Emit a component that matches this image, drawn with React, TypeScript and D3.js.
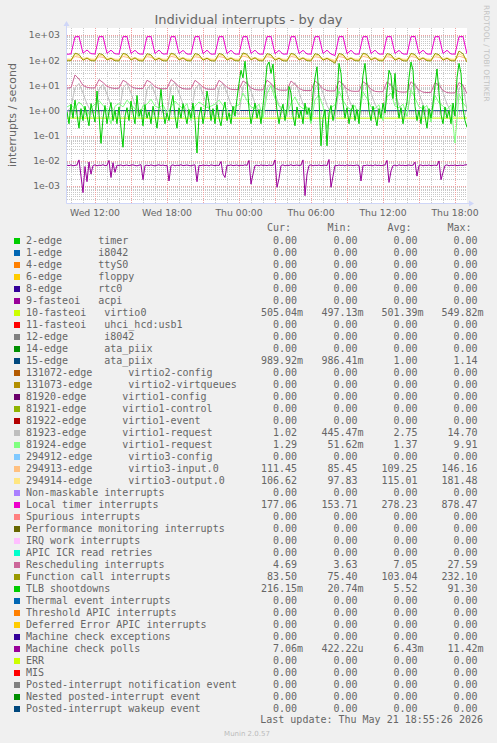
import React from "react";
import * as d3 from "d3";

const W = 497;
const H = 743;
const PL = 67;
const PR = 467;
const PT = 28;
const PB = 203;

const startTime = new Date(2026, 4, 20, 9, 40);
const endTime = new Date(2026, 4, 21, 19, 0);

const yTickValues = [1e-3, 1e-2, 1e-1, 1, 10, 100, 1000];
const yTickLabels = ["1e-03", "1e-02", "1e-01", "1e+00", "1e+01", "1e+02", "1e+03"];
const xTickTimes = [
  new Date(2026, 4, 20, 12, 0),
  new Date(2026, 4, 20, 18, 0),
  new Date(2026, 4, 21, 0, 0),
  new Date(2026, 4, 21, 6, 0),
  new Date(2026, 4, 21, 12, 0),
  new Date(2026, 4, 21, 18, 0),
];
const xTickLabels = ["Wed 12:00", "Wed 18:00", "Thu 00:00", "Thu 06:00", "Thu 12:00", "Thu 18:00"];

// ---- series (values per second) ----
const virtio0 = [0.505, 0.501, 0.5, 0.502, 0.505];
const ataPiix15 = [0.99, 1.0, 1.01, 0.99, 0.99];

const virtio1Request81923 = [
  0.9, 1.4,
  8, 12, 5, 1.8, 0.9, 0.8,
  7, 11, 4.5, 1.6, 0.8, 0.7,
  8, 12, 5, 1.7, 0.9, 0.6,
  7, 11, 4.8, 1.5, 0.8, 0.7,
  9, 13, 5, 1.8, 0.9, 0.7,
  7, 11, 4.5, 1.6, 0.8, 0.6,
  8, 12, 5, 1.7, 0.9, 0.7,
  9, 14.7, 6, 1.9, 0.9, 0.7,
  8, 12, 5, 1.6, 0.8, 0.6,
  9, 13, 5.5, 1.8, 0.9, 0.7,
  8, 12, 5, 1.6, 0.8, 0.45,
  8, 12, 5, 1.7, 0.9, 0.7,
  9, 13, 5, 1.8, 0.9, 0.7,
  8, 12, 4.8, 1.6, 0.8, 0.6,
  8, 12, 5, 1.7, 0.9, 0.7,
  9, 13, 5.2, 1.8, 0.9, 0.7,
  8, 11, 1.02,
];

const virtio1Request81924 = [
  1.4, 1.7, 1.2, 2.2, 1.5, 0.6, 1.3, 1.8, 2.5, 1.6,
  1.1, 0.3, 1.5, 1.9, 1.4, 2.6, 1.7, 1.2, 0.5, 1.6,
  1.8, 2.8, 1.5, 1.3, 1.7, 0.8, 1.4, 2.4, 1.6, 1.2,
  1.9, 0.4, 1.5, 2.2, 1.7, 1.3, 1.5, 1.8, 2.6, 1.6,
  1.1, 0.6, 1.5, 1.7, 5.0, 2.5, 1.4, 1.2, 1.8, 0.5,
  4.5, 9.9, 3.0, 1.5, 1.3, 0.7, 2.0, 3.5, 1.6, 1.2,
  1.4, 0.3, 2.8, 4.0, 1.5, 0.2, 1.3, 1.7, 6.0, 2.5,
  1.4, 1.1, 1.6, 0.5, 5.5, 3.0, 1.4, 1.2, 1.7, 0.4,
  3.5, 5.0, 1.5, 1.3, 1.8, 0.6, 6.5, 3.2, 1.4, 1.2,
  1.6, 0.35, 4.0, 2.0, 1.5, 1.1, 1.7, 0.0516, 4.5, 2.0,
  1.29,
];

const virtio3Input = [
  106, 105,
  140, 132, 110, 116, 106, 104,
  138, 130, 109, 115, 105, 104,
  141, 131, 110, 116, 106, 103,
  139, 130, 108, 114, 105, 104,
  142, 132, 110, 116, 106, 104,
  138, 130, 109, 115, 105, 103,
  140, 131, 110, 116, 106, 104,
  146, 134, 111, 117, 106, 104,
  139, 130, 109, 115, 105, 103,
  141, 132, 110, 116, 106, 104,
  138, 130, 108, 114, 105, 86,
  140, 131, 110, 116, 106, 104,
  142, 132, 110, 116, 106, 104,
  139, 130, 109, 115, 105, 103,
  141, 131, 110, 116, 106, 104,
  138, 130, 109, 115, 105, 104,
  146, 130, 111.45,
];

const virtio3Output = [
  112, 110,
  165, 150, 118, 126, 112, 110,
  160, 148, 117, 124, 111, 109,
  168, 152, 119, 127, 112, 110,
  162, 149, 117, 125, 111, 110,
  170, 153, 119, 127, 112, 110,
  161, 148, 116, 124, 111, 109,
  166, 151, 118, 126, 112, 110,
  175, 155, 120, 128, 113, 110,
  163, 149, 117, 125, 111, 109,
  168, 152, 118, 126, 112, 110,
  161, 148, 116, 124, 111, 98,
  166, 151, 118, 126, 112, 110,
  170, 153, 119, 127, 112, 110,
  162, 149, 117, 125, 111, 109,
  167, 151, 118, 126, 112, 110,
  163, 150, 117, 125, 111, 110,
  181, 150, 106.62,
];

const localTimer = [
  172, 178,
  850, 870, 190, 255, 182, 176,
  860, 868, 188, 250, 180, 175,
  862, 870, 186, 248, 178, 174,
  858, 872, 184, 252, 176, 178,
  860, 866, 185, 246, 176, 175,
  862, 870, 182, 250, 174, 176,
  858, 868, 184, 248, 176, 175,
  860, 866, 186, 250, 176, 174,
  862, 870, 182, 246, 175, 176,
  858, 868, 184, 248, 177, 175,
  860, 866, 185, 250, 176, 154,
  862, 870, 183, 248, 175, 176,
  858, 866, 184, 250, 176, 175,
  860, 868, 186, 246, 177, 174,
  862, 878, 183, 250, 176, 175,
  858, 868, 185, 248, 176, 175,
  860, 870, 177,
];

const rescheduling = [
  7.8, 8.2,
  26, 18, 10, 8.4, 7.9, 8.0,
  17, 13, 9.2, 8.0, 7.6, 7.8,
  16, 13, 9.0, 7.8, 7.5, 7.6,
  16, 13, 8.8, 7.6, 7.3, 7.5,
  17, 13, 8.8, 7.4, 7.2, 7.3,
  16, 12, 8.5, 7.2, 7.0, 7.1,
  16, 12, 8.3, 7.0, 6.8, 6.9,
  15, 12, 8.0, 6.8, 6.6, 6.7,
  16, 12, 7.8, 6.6, 6.4, 6.5,
  15, 11, 7.6, 6.4, 6.2, 6.3,
  15, 11, 7.4, 6.2, 6.0, 6.1,
  15, 11, 7.2, 6.0, 5.8, 5.9,
  14, 11, 7.0, 5.8, 5.6, 5.7,
  14, 10, 6.8, 5.6, 5.4, 5.5,
  14, 10, 6.6, 5.4, 5.2, 5.3,
  13, 10, 6.3, 5.2, 5.0, 5.1,
  13, 10, 4.69,
];

const functionCall = [
  95, 96,
  190, 170, 100, 122, 96, 94,
  185, 165, 102, 120, 95, 94,
  188, 168, 101, 124, 96, 93,
  182, 164, 100, 119, 95, 94,
  190, 170, 102, 123, 96, 94,
  184, 166, 100, 120, 95, 93,
  186, 167, 101, 122, 96, 94,
  195, 172, 103, 125, 96, 94,
  183, 165, 100, 120, 95, 93,
  188, 168, 102, 123, 96, 94,
  182, 164, 100, 119, 95, 76,
  186, 167, 101, 122, 96, 94,
  190, 170, 102, 124, 96, 94,
  184, 166, 100, 120, 95, 93,
  188, 168, 101, 123, 96, 94,
  185, 166, 100, 121, 95, 94,
  232, 180, 83.5,
];

const tlbShootdowns = [
  0.9, 0.3, 1.8, 0.5, 2.6, 0.7, 0.2, 1.2, 0.4, 1.5, 0.6, 0.25, 1.9, 0.8, 0.35,
  6.0, 0.7, 0.05, 0.5, 1.6, 0.3, 0.9, 2.1, 0.4, 1.0, 0.3, 1.4, 0.2, 0.035, 0.6,
  1.3, 0.4, 2.4, 0.8, 0.3, 4.0, 0.6, 1.1, 0.25, 1.7, 0.5, 0.9, 0.3, 1.5, 0.6,
  0.2, 1.2, 7.0, 1.0, 0.3, 0.8, 0.4, 1.6, 4.0, 0.6, 0.2, 1.3, 0.5, 1.9, 0.7,
  0.3, 1.1, 0.5, 2.0, 0.4, 0.0207, 0.6, 1.4, 0.3, 0.9, 6.0, 2.0, 0.4, 1.2, 0.3,
  1.7, 0.5, 0.25, 1.0, 2.2, 0.4, 0.8, 0.3, 1.5, 0.6, 3.0, 12, 40, 20, 91.3,
  15, 1.2, 0.3, 0.8, 2.0, 0.5, 1.1, 0.3, 1.6, 8.0, 60, 85, 30, 70, 6.0,
  1.0, 0.3, 0.9, 1.8, 0.4, 1.2, 9.0, 5.0, 0.6, 0.25, 1.4, 0.5, 1.0, 0.3, 2.0,
  0.7, 1.3, 0.4, 5.0, 20, 55, 3.0, 0.04, 0.5, 1.1, 0.04, 0.8, 1.6, 0.4, 1.0,
  4.0, 75, 30, 2.0, 0.5, 1.3, 0.3, 0.9, 1.7, 0.4, 1.1, 0.3, 3.0, 25, 75,
  10, 1.0, 0.4, 1.5, 0.6, 0.25, 1.2, 0.5, 2.0, 0.8, 6.0, 40, 25, 3.0, 30,
  2.0, 0.5, 1.3, 0.3, 0.9, 2.2, 20, 85, 40, 1.5, 0.4, 1.0, 0.3, 1.6, 0.6,
  0.2, 1.2, 0.5, 1.8, 10, 45, 5.0, 0.7, 0.3, 1.4, 0.5, 1.0, 0.3, 2.0, 0.6,
  20, 75, 30, 1.2, 0.4, 0.216,
];

const machineCheckPolls = [
  0.0068, 0.0065, 0.007, 0.0064, 0.0067, 0.0069, 0.011, 0.0025, 0.00055, 0.006, 0.0015, 0.009, 0.003, 0.0066, 0.007, 0.0064, 0.0068, 0.0066, 0.0071, 0.0065,
  0.0067, 0.0105, 0.0022, 0.0085, 0.0035, 0.0068, 0.0066, 0.007, 0.0064, 0.0067, 0.0069, 0.0065, 0.0068, 0.007, 0.0066, 0.0064, 0.0068, 0.0071, 0.0018, 0.0066,
  0.0068, 0.0065, 0.007, 0.0066, 0.0064, 0.0068, 0.007, 0.0066, 0.0069, 0.0065, 0.0067, 0.0016, 0.0066, 0.007, 0.0064, 0.0068, 0.0066, 0.0071, 0.0065, 0.0067,
  0.0069, 0.0066, 0.0064, 0.0068, 0.007, 0.0015, 0.0067, 0.0065, 0.0069, 0.0066, 0.0068, 0.0064, 0.007, 0.0067, 0.0065, 0.0068, 0.0066, 0.0095, 0.003, 0.0022,
  0.0068, 0.0066, 0.007, 0.0065, 0.0067, 0.0069, 0.0064, 0.0068, 0.0066, 0.007, 0.0067, 0.0105, 0.0012, 0.003, 0.0066, 0.0068, 0.0064, 0.007, 0.0066, 0.0068,
  0.0065, 0.0069, 0.0066, 0.0068, 0.011, 0.0009, 0.002, 0.0066, 0.007, 0.0064, 0.0068, 0.0066, 0.0071, 0.0065, 0.0067, 0.0069, 0.0066, 0.0068, 0.011, 0.00042,
  0.003, 0.0066, 0.007, 0.0064, 0.0068, 0.0066, 0.0069, 0.0065, 0.0067, 0.0068, 0.0066, 0.0114, 0.0009, 0.0025, 0.0067, 0.0065, 0.0069, 0.0066, 0.0068, 0.0064,
  0.007, 0.0066, 0.0068, 0.0065, 0.0067, 0.0069, 0.0066, 0.0016, 0.0067, 0.0065, 0.0069, 0.0066, 0.0068, 0.0064, 0.007, 0.0066, 0.0068, 0.0065, 0.0067, 0.0069,
  0.0105, 0.0014, 0.004, 0.0066, 0.0068, 0.0064, 0.007, 0.0066, 0.0068, 0.0065, 0.0067, 0.0069, 0.0066, 0.0068, 0.009, 0.0025, 0.0066, 0.007, 0.0064, 0.0068,
  0.0066, 0.0069, 0.0065, 0.0067, 0.0068, 0.0066, 0.01, 0.0018, 0.0035, 0.0066, 0.007, 0.0064, 0.0068, 0.0066, 0.0069, 0.0065, 0.0067, 0.0068, 0.0066, 0.007,
  0.00706,
];

// ---- legend ----
const palette = [
  "#00CC00", "#0066B3", "#FF8000", "#FFCC00", "#330099", "#990099", "#CCFF00", "#FF0000",
  "#808080", "#008F00", "#00487D", "#B35A00", "#B38F00", "#6B006B", "#8FB300", "#B30000",
  "#BEBEBE", "#80FF80", "#80C9FF", "#FFC080", "#FFE680", "#AA80FF", "#EE00CC", "#FF8080",
  "#666600", "#FFBFFF", "#00FFCC", "#CC6699", "#999900",
];

const legendLabels = [
  "2-edge      timer",
  "1-edge      i8042",
  "4-edge      ttyS0",
  "6-edge      floppy",
  "8-edge      rtc0",
  "9-fasteoi   acpi",
  "10-fasteoi   virtio0",
  "11-fasteoi   uhci_hcd:usb1",
  "12-edge      i8042",
  "14-edge      ata_piix",
  "15-edge      ata_piix",
  "131072-edge      virtio2-config",
  "131073-edge      virtio2-virtqueues",
  "81920-edge      virtio1-config",
  "81921-edge      virtio1-control",
  "81922-edge      virtio1-event",
  "81923-edge      virtio1-request",
  "81924-edge      virtio1-request",
  "294912-edge      virtio3-config",
  "294913-edge      virtio3-input.0",
  "294914-edge      virtio3-output.0",
  "Non-maskable interrupts",
  "Local timer interrupts",
  "Spurious interrupts",
  "Performance monitoring interrupts",
  "IRQ work interrupts",
  "APIC ICR read retries",
  "Rescheduling interrupts",
  "Function call interrupts",
  "TLB shootdowns",
  "Thermal event interrupts",
  "Threshold APIC interrupts",
  "Deferred Error APIC interrupts",
  "Machine check exceptions",
  "Machine check polls",
  "ERR",
  "MIS",
  "Posted-interrupt notification event",
  "Nested posted-interrupt event",
  "Posted-interrupt wakeup event",
];

const Z = "0.00";
const curValues = [Z, Z, Z, Z, Z, Z, "505.04m", Z, Z, Z, "989.92m", Z, Z, Z, Z, Z, "1.02", "1.29", Z, "111.45", "106.62", Z, "177.06", Z, Z, Z, Z, "4.69", "83.50", "216.15m", Z, Z, Z, Z, "7.06m", Z, Z, Z, Z, Z];
const minValues = [Z, Z, Z, Z, Z, Z, "497.13m", Z, Z, Z, "986.41m", Z, Z, Z, Z, Z, "445.47m", "51.62m", Z, "85.45", "97.83", Z, "153.71", Z, Z, Z, Z, "3.63", "75.40", "20.74m", Z, Z, Z, Z, "422.22u", Z, Z, Z, Z, Z];
const avgValues = [Z, Z, Z, Z, Z, Z, "501.39m", Z, Z, Z, "1.00", Z, Z, Z, Z, Z, "2.75", "1.37", Z, "109.25", "115.01", Z, "278.23", Z, Z, Z, Z, "7.05", "103.04", "5.52", Z, Z, Z, Z, "6.43m", Z, Z, Z, Z, Z];
const maxValues = [Z, Z, Z, Z, Z, Z, "549.82m", Z, Z, Z, "1.14", Z, Z, Z, Z, Z, "14.70", "9.91", Z, "146.16", "181.48", Z, "878.47", Z, Z, Z, Z, "27.59", "232.10", "91.30", Z, Z, Z, Z, "11.42m", Z, Z, Z, Z, Z];
const columnHeaders = ["Cur:", "Min:", "Avg:", "Max:"];

// series drawn in legend order (index into legend)
const plotted: [number, number[]][] = [
  [6, virtio0],
  [10, ataPiix15],
  [16, virtio1Request81923],
  [17, virtio1Request81924],
  [19, virtio3Input],
  [20, virtio3Output],
  [22, localTimer],
  [27, rescheduling],
  [28, functionCall],
  [29, tlbShootdowns],
  [34, machineCheckPolls],
];

const FONT = "'DejaVu Sans', sans-serif";
const MONO = "'DejaVu Sans Mono', monospace";
const TEXT = "#666666";

export default function App() {
  const x = d3.scaleTime().domain([startTime, endTime]).range([PL, PR]);
  const y = d3.scaleLog().domain([Math.pow(10, -3.67), Math.pow(10, 3.28)]).range([PB, PT]);
  const span = endTime.getTime() - startTime.getTime();

  const minorY: number[] = [];
  for (let k = -4; k <= 3; k++) {
    for (let m = 2; m <= 9; m++) {
      const v = m * Math.pow(10, k);
      const py = y(v);
      if (py > PT && py < PB) minorY.push(Math.round(py) + 0.5);
    }
  }
  const hours = d3.timeHour.every(1)!.range(startTime, endTime);
  const minorX = hours.filter((h) => h.getHours() % 3 !== 0).map((h) => Math.round(x(h)) + 0.5);
  const majorX = hours.filter((h) => h.getHours() % 3 === 0).map((h) => Math.round(x(h)) + 0.5);

  const lineFor = (vals: number[]) => {
    const n = vals.length;
    const gen = d3
      .line<number>()
      .x((_, i) => x(new Date(startTime.getTime() + (i * span) / (n - 1))))
      .y((v) => y(v));
    return gen(vals) || "";
  };

  const colCur = [297, 357.5, 417.5, 477.5];
  const renderVal = (s: string, colX: number, yy: number, key: string) => {
    const m = s.match(/^([0-9.\-]+)([a-zA-Z]?)$/);
    const num = m ? m[1] : s;
    const suf = m ? m[2] : "";
    return (
      <g key={key}>
        <text x={colX} y={yy} textAnchor="end">{num}</text>
        {suf && <text x={colX} y={yy}>{suf}</text>}
      </g>
    );
  };

  return (
    <svg width={W} height={H} style={{ position: "absolute", left: 0, top: 0, display: "block" }}>
      <rect x={0} y={0} width={W} height={H} fill="#F0F0F0" />
      <rect x={PL} y={PT} width={PR - PL} height={PB - PT} fill="#FFFFFF" />
      <defs>
        <clipPath id="plotclip">
          <rect x={PL} y={PT - 2} width={PR - PL} height={PB - PT + 2} />
        </clipPath>
      </defs>

      {/* grid */}
      <g shapeRendering="crispEdges">
        {minorY.map((py, i) => (
          <line key={"my" + i} x1={PL} x2={PR} y1={py} y2={py} stroke="#C8C8C8" strokeDasharray="1,1" />
        ))}
        {minorX.map((px, i) => (
          <line key={"mx" + i} x1={px} x2={px} y1={PT} y2={PB} stroke="#C8C8C8" strokeDasharray="1,1" />
        ))}
        {yTickValues.map((v, i) => {
          const py = Math.round(y(v)) + 0.5;
          return <line key={"Y" + i} x1={PL} x2={PR} y1={py} y2={py} stroke="#F0A0A0" strokeDasharray="1,1" />;
        })}
        {majorX.map((px, i) => (
          <line key={"X" + i} x1={px} x2={px} y1={PT} y2={PB} stroke="#F0A0A0" strokeDasharray="1,1" />
        ))}
      </g>

      {/* series */}
      <g clipPath="url(#plotclip)" fill="none" strokeWidth={1}>
        {plotted.map(([idx, vals]) => (
          <path key={"s" + idx} d={lineFor(vals)} stroke={palette[idx % palette.length]} />
        ))}
      </g>

      {/* axes */}
      <g>
        <line x1={PL - 0.5} x2={PR + 3} y1={PB + 0.5} y2={PB + 0.5} stroke="#CFD6F8" />
        <path d={`M${PR + 2},${PB - 2.5} L${PR + 7},${PB + 0.5} L${PR + 2},${PB + 3.5} Z`} fill="#CFD6F8" />
        <line x1={PL - 0.5} x2={PL - 0.5} y1={PB + 0.5} y2={PT - 3} stroke="#CFD6F8" />
        <path d={`M${PL - 3.5},${PT - 2} L${PL - 0.5},${PT - 7} L${PL + 2.5},${PT - 2} Z`} fill="#CFD6F8" />
      </g>

      {/* y ticks */}
      <g fontFamily={FONT} fontSize={9.3} fill={TEXT} textAnchor="end">
        {yTickValues.map((v, i) => (
          <text key={"yt" + i} x={60} y={y(v) + 3.3}>{yTickLabels[i]}</text>
        ))}
      </g>
      {/* x ticks */}
      <g fontFamily={FONT} fontSize={9.3} fill={TEXT} textAnchor="middle">
        {xTickTimes.map((t, i) => (
          <text key={"xt" + i} x={x(t)} y={216}>{xTickLabels[i]}</text>
        ))}
      </g>

      {/* titles */}
      <text x={248.5} y={24} textAnchor="middle" fontFamily={FONT} fontSize={13} fill={TEXT}>
        Individual interrupts - by day
      </text>
      <text transform="translate(15.5,115) rotate(-90)" textAnchor="middle" fontFamily={FONT} fontSize={11} fill={TEXT}>
        interrupts / second
      </text>
      <text transform="translate(484,5) rotate(90)" textAnchor="start" fontFamily={FONT} fontSize={7.5} fill="#C4C4C4">
        RRDTOOL / TOBI OETIKER
      </text>

      {/* legend */}
      <g fontFamily={MONO} fontSize={10} fill={TEXT}>
        {columnHeaders.map((h, i) => (
          <text key={"h" + i} x={colCur[i] - 6} y={231} textAnchor="end">{h}</text>
        ))}
        {legendLabels.map((lab, i) => {
          const yy = 243.5 + 12 * i;
          return (
            <g key={"l" + i}>
              <rect x={14} y={238 + 12 * i} width={6} height={6} fill={palette[i % palette.length]} shapeRendering="crispEdges" />
              <text x={26} y={yy} xmlSpace="preserve" style={{ whiteSpace: "pre" }}>{lab}</text>
              {renderVal(curValues[i], colCur[0], yy, "c" + i)}
              {renderVal(minValues[i], colCur[1], yy, "n" + i)}
              {renderVal(avgValues[i], colCur[2], yy, "a" + i)}
              {renderVal(maxValues[i], colCur[3], yy, "x" + i)}
            </g>
          );
        })}
        <text x={483} y={723} textAnchor="end" xmlSpace="preserve" style={{ whiteSpace: "pre" }}>
          Last update: Thu May 21 18:55:26 2026
        </text>
      </g>
      <text x={247} y={736} textAnchor="middle" fontFamily={FONT} fontSize={7} fill="#BBBBBB">
        Munin 2.0.57
      </text>
    </svg>
  );
}
